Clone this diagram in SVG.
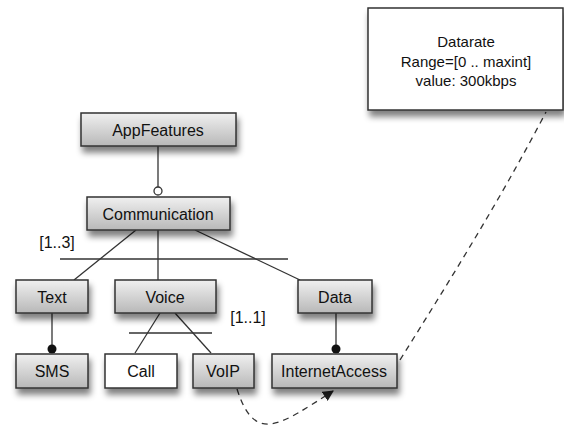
<svg xmlns="http://www.w3.org/2000/svg" width="564" height="432" viewBox="0 0 564 432">
<defs>
<linearGradient id="g" x1="0" y1="0" x2="0" y2="1">
<stop offset="0" stop-color="#f0f0f0"/>
<stop offset="1" stop-color="#b8b8b8"/>
</linearGradient>
<filter id="sh" x="-20%" y="-20%" width="150%" height="170%">
<feGaussianBlur in="SourceAlpha" stdDeviation="3"/>
<feOffset dx="2" dy="6" result="b"/>
<feComponentTransfer><feFuncA type="linear" slope="0.5"/></feComponentTransfer>
<feMerge><feMergeNode/><feMergeNode in="SourceGraphic"/></feMerge>
</filter>
<marker id="arr" viewBox="0 0 10 10" refX="9" refY="5" markerWidth="11" markerHeight="11" markerUnits="userSpaceOnUse" orient="auto">
<path d="M0,0 L10,5 L0,10 z" fill="#222"/>
</marker>
</defs>
<style>
.n rect{fill:url(#g);stroke:#333;stroke-width:1.5;filter:url(#sh)}
.w rect{fill:#fff}
text{font-family:"Liberation Sans",Arial,sans-serif;font-size:16px;fill:#111;text-anchor:middle}
.dr text{font-size:15px}
.c line,.c path{stroke:#333;stroke-width:1.3;fill:none}
.d{stroke-dasharray:6,5}
</style>
<g class="c" id="connectors">
<line x1="158" y1="146" x2="158" y2="187"/>
<circle cx="158" cy="191" r="4" fill="#fff" stroke="#333" stroke-width="1.3"/>
<line x1="136" y1="230" x2="74" y2="280"/>
<line x1="158" y1="230" x2="158" y2="280"/>
<line x1="195" y1="230" x2="300" y2="280"/>
<line x1="60" y1="259" x2="288" y2="259"/>
<line x1="160" y1="313" x2="135" y2="353"/>
<line x1="175" y1="313" x2="211" y2="353"/>
<line x1="129" y1="333" x2="212" y2="333"/>
<line x1="52" y1="313" x2="52" y2="350"/>
<circle cx="52" cy="349" r="4.5" fill="#111"/>
<line x1="336" y1="313" x2="336" y2="350"/>
<circle cx="336" cy="349" r="4.5" fill="#111"/>
<path class="d" d="M237,389 C255,445 280,425 333,391" marker-end="url(#arr)"/>
<path class="d" d="M400,360 C450,280 500,200 546,112"/>
</g>
<g id="labels">
<text x="57" y="248">[1..3]</text>
<text x="248" y="323">[1..1]</text>
</g>
<g class="n" id="AppFeatures"><rect x="81" y="113" width="155" height="33"/><text x="158" y="135.5">AppFeatures</text></g>
<g class="n" id="Communication"><rect x="87" y="197" width="143" height="33"/><text x="158" y="219.5">Communication</text></g>
<g class="n" id="Text"><rect x="16" y="280" width="72" height="33"/><text x="52" y="302.5">Text</text></g>
<g class="n" id="Voice"><rect x="115" y="280" width="101" height="33"/><text x="165" y="302.5">Voice</text></g>
<g class="n" id="Data"><rect x="298" y="280" width="74" height="33"/><text x="335" y="302.5">Data</text></g>
<g class="n" id="SMS"><rect x="16" y="354" width="72" height="34"/><text x="52" y="376.5">SMS</text></g>
<g class="n w" id="Call"><rect x="105" y="354" width="72" height="34"/><text x="141" y="376.5">Call</text></g>
<g class="n" id="VoIP"><rect x="193" y="354" width="61" height="34"/><text x="223" y="376.5">VoIP</text></g>
<g class="n" id="InternetAccess"><rect x="272" y="354" width="125" height="34"/><text x="334" y="376.5">InternetAccess</text></g>
<g class="n w dr" id="Datarate"><rect x="368" y="8" width="195" height="102"/>
<text x="466" y="47">Datarate</text><text x="466" y="67">Range=[0 .. maxint]</text><text x="466" y="86">value: 300kbps</text></g>
</svg>
